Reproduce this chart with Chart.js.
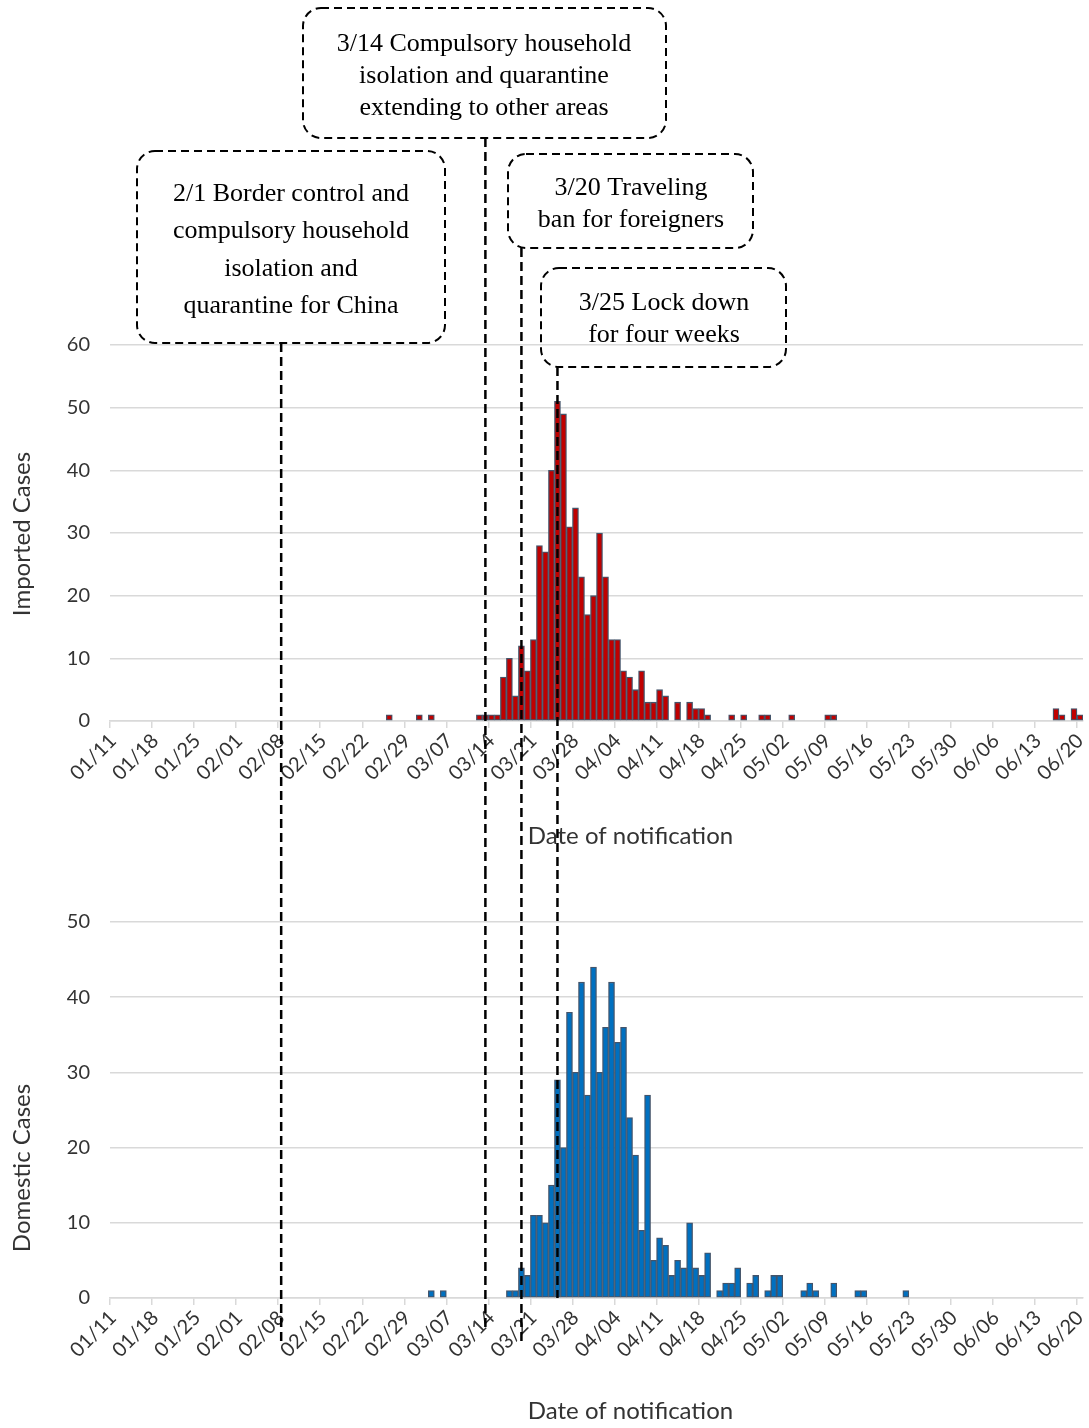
<!DOCTYPE html>
<html><head><meta charset="utf-8">
<script src="https://cdn.jsdelivr.net/npm/chart.js@4.4.1/dist/chart.umd.min.js"></script>
<style>
html,body{margin:0;padding:0;background:#fff;}
#wrap{position:relative;width:1089px;height:1428px;overflow:hidden;}
canvas{position:absolute;left:0;}
#top{top:0;} #bot{top:870px;}
</style></head><body>
<div id="wrap"><canvas id="top" width="1089" height="870"></canvas><canvas id="bot" width="1089" height="558"></canvas></div>
<script>
// ---- categories: daily notification dates 2020-01-11 .. 2020-06-20 ----
const categories = [];
(function(){ const d = new Date(2020,0,11); const end = new Date(2020,5,20);
  while (d <= end) { categories.push(String(d.getMonth()+1).padStart(2,'0')+'/'+String(d.getDate()).padStart(2,'0')); d.setDate(d.getDate()+1);} })();

const tickLabels = ['01/11','01/18','01/25','02/01','02/08','02/15','02/22','02/29','03/07','03/14','03/21','03/28',
  '04/04','04/11','04/18','04/25','05/02','05/09','05/16','05/23','05/30','06/06','06/13','06/20'];

const importedCases = [
  0,0,0,0,0,0,0,0,0,0,
  0,0,0,0,0,0,0,0,0,0,
  0,0,0,0,0,0,0,0,0,0,
  0,0,0,0,0,0,0,0,0,0,
  0,0,0,0,0,0,1,0,0,0,
  0,1,0,1,0,0,0,0,0,0,
  0,1,1,1,1,7,10,4,12,8,
  13,28,27,40,51,49,31,34,23,17,
  20,30,23,13,13,8,7,5,8,3,
  3,5,4,0,3,0,3,2,2,1,
  0,0,0,1,0,1,0,0,1,1,
  0,0,0,1,0,0,0,0,0,1,
  1,0,0,0,0,0,0,0,0,0,
  0,0,0,0,0,0,0,0,0,0,
  0,0,0,0,0,0,0,0,0,0,
  0,0,0,0,0,0,0,2,1,0,
  2,1];

const domesticCases = [
  0,0,0,0,0,0,0,0,0,0,
  0,0,0,0,0,0,0,0,0,0,
  0,0,0,0,0,0,0,0,0,0,
  0,0,0,0,0,0,0,0,0,0,
  0,0,0,0,0,0,0,0,0,0,
  0,0,0,1,0,1,0,0,0,0,
  0,0,0,0,0,0,1,1,4,3,
  11,11,10,15,29,20,38,30,42,27,
  44,30,36,42,34,36,24,19,9,27,
  5,8,7,3,5,4,10,4,3,6,
  0,1,2,2,4,0,2,3,0,1,
  3,3,0,0,0,1,2,1,0,0,
  2,0,0,0,1,1,0,0,0,0,
  0,0,1,0,0,0,0,0,0,0,
  0,0,0,0,0,0,0,0,0,0,
  0,0,0,0,0,0,0,0,0,0,
  0,0];

const importedTicks = [0,10,20,30,40,50,60];
const domesticTicks = [0,10,20,30,40,50];

// policy events: date where the dashed marker is drawn, and the text of its note
const eventDates = ['02/08','03/13','03/19','03/25'];
const eventTexts = [
  ['2/1 Border control and','compulsory household','isolation and','quarantine for China'],
  ['3/14 Compulsory household','isolation and quarantine','extending to other areas'],
  ['3/20 Traveling','ban for foreigners'],
  ['3/25 Lock down','for four weeks']
];

// ---- styling / layout of the notes (decoration only) ----
const noteBoxes = [
  {l:137,t:151,r:445,b:343,cx:291,y0:194,lh:37.5},
  {l:303,t:8,r:666,b:138,cx:484,y0:44,lh:32},
  {l:508,t:154,r:753,b:248,cx:631,y0:188,lh:32},
  {l:541,t:268,r:786,b:367,cx:664,y0:303,lh:32}
];
const lineEndsBottom = [472,460,475,null];

Chart.defaults.font.family = 'Lato, "Open Sans", sans-serif';
Chart.defaults.color = '#333';

const GRID = '#d9d9d9';
function tickShown(i){ return tickLabels.includes(categories[i]); }

function roundRectPath(ctx,l,t,r,b,rad){
  ctx.beginPath();
  ctx.moveTo(l+rad,t); ctx.lineTo(r-rad,t); ctx.arcTo(r,t,r,t+rad,rad);
  ctx.lineTo(r,b-rad); ctx.arcTo(r,b,r-rad,b,rad);
  ctx.lineTo(l+rad,b); ctx.arcTo(l,b,l,b-rad,rad);
  ctx.lineTo(l,t+rad); ctx.arcTo(l,t,l+rad,t,rad); ctx.closePath();
}

function eventPixel(chart, k){
  return chart.scales.x.getPixelForValue(categories.indexOf(eventDates[k]));
}

function makeOptions(yMax, yTicks, yTitle, yTitleCenter, xTitleY, padTop, xHeight){
  return {
    responsive:false, animation:false, devicePixelRatio:1,
    layout:{padding:{top:padTop,right:6,left:0,bottom:0}},
    plugins:{legend:{display:false},tooltip:{enabled:false}},
    scales:{
      x:{
        type:'category', offset:true,
        grid:{display:true, drawOnChartArea:false, drawTicks:true, tickLength:7, offset:true,
              color:(c)=> tickShown(c.index) ? GRID : 'rgba(0,0,0,0)', lineWidth:1.5},
        border:{display:true,color:GRID,width:1.5},
        ticks:{autoSkip:false, minRotation:45, maxRotation:45, padding:1,
               font:{size:20}, color:'#333',
               callback:(v,i)=> tickShown(i) ? categories[i] : ''},
        afterFit:(s)=>{ s.height = xHeight; s.paddingLeft = 0; s.paddingRight = 0; }
      },
      y:{
        min:0, max:yMax,
        afterBuildTicks:(s)=>{ s.ticks = yTicks.map(v=>({value:v})); },
        grid:{color:GRID, lineWidth:1.5, drawTicks:false},
        border:{display:false},
        ticks:{padding:20, font:{size:20}, color:'#333'},
        afterFit:(s)=>{ s.width = 110; s.paddingTop = 0; s.paddingBottom = 0; }
      }
    },
    _titles:{yTitle, yTitleCenter, xTitleY}
  };
}

const titlePlugin = {
  id:'axisTitles',
  afterDraw(chart){
    const t = chart.options._titles; if(!t) return;
    const ctx = chart.ctx, a = chart.chartArea;
    ctx.save();
    ctx.fillStyle = '#333';
    ctx.font = '24px Lato, "Open Sans", sans-serif';
    ctx.textAlign='center'; ctx.textBaseline='middle';
    ctx.fillText('Date of notification', (a.left+a.right)/2+34, t.xTitleY);
    ctx.translate(22, t.yTitleCenter); ctx.rotate(-Math.PI/2);
    ctx.fillText(t.yTitle,0,0);
    ctx.restore();
  }
};

const topNotes = {
  id:'topNotes',
  afterDraw(chart){
    const ctx = chart.ctx;
    ctx.save();
    noteBoxes.forEach((b,k)=>{
      ctx.setLineDash([8,5]); ctx.lineWidth=2; ctx.strokeStyle='#000';
      roundRectPath(ctx,b.l,b.t,b.r,b.b,18); ctx.stroke();
      ctx.setLineDash([]);
      ctx.fillStyle='#000'; ctx.font='26px "Liberation Serif", "Times New Roman", serif';
      ctx.textAlign='center'; ctx.textBaseline='middle';
      eventTexts[k].forEach((s,j)=> ctx.fillText(s, b.cx, b.y0 + j*b.lh));
    });
    ctx.setLineDash([9,5]); ctx.lineWidth=2.5; ctx.strokeStyle='#000';
    noteBoxes.forEach((b,k)=>{
      const x = eventPixel(chart,k);
      ctx.beginPath(); ctx.moveTo(x,b.b); ctx.lineTo(x,chart.height); ctx.stroke();
    });
    ctx.restore();
  }
};

const botNotes = {
  id:'botNotes',
  afterDraw(chart){
    const ctx = chart.ctx;
    ctx.save();
    ctx.setLineDash([9,5]); ctx.lineWidth=2.5; ctx.strokeStyle='#000';
    eventDates.forEach((d,k)=>{
      const x = eventPixel(chart,k);
      const end = lineEndsBottom[k]===null ? chart.chartArea.bottom : lineEndsBottom[k];
      ctx.beginPath(); ctx.moveTo(x,0); ctx.lineTo(x,end); ctx.stroke();
    });
    ctx.restore();
  }
};

new Chart(document.getElementById('top'), {
  type:'bar',
  data:{labels:categories, datasets:[{
    data: importedCases.map(v=> v===0 ? null : v),
    backgroundColor:'#c00000', borderColor:'#44546a', borderWidth:1.3, borderSkipped:false,
    barPercentage:1, categoryPercentage:1
  }]},
  options: makeOptions(60, importedTicks, 'Imported Cases', 534, 836, 345, 149),
  plugins:[titlePlugin, topNotes]
});

new Chart(document.getElementById('bot'), {
  type:'bar',
  data:{labels:categories, datasets:[{
    data: domesticCases.map(v=> v===0 ? null : v),
    backgroundColor:'#0070c0', borderColor:'#44546a', borderWidth:1.3, borderSkipped:false,
    barPercentage:1, categoryPercentage:1
  }]},
  options: makeOptions(50, domesticTicks, 'Domestic Cases', 298, 541, 52, 130),
  plugins:[titlePlugin, botNotes]
});
</script>
</body></html>
